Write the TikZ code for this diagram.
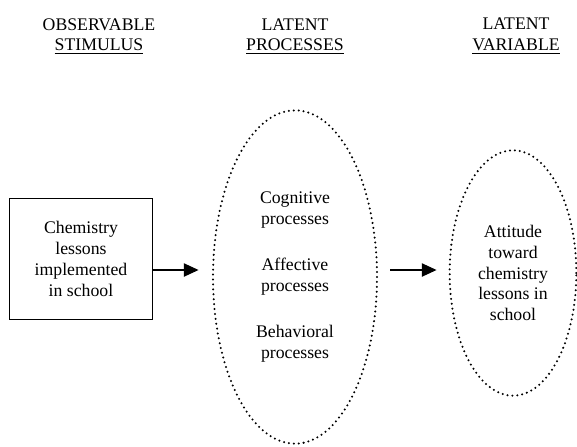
\documentclass[tikz,border=0pt]{standalone}
\usepackage{fontspec}
\setmainfont{Liberation Serif}
\usetikzlibrary{shapes.geometric,arrows.meta}

\begin{document}
\begin{tikzpicture}[x=0.75pt,y=-0.75pt,
    font=\fontsize{13.3}{15.6}\selectfont,
    dotline/.style={line width=1.7pt, line cap=round, dash pattern=on 0pt off 3.7pt},
    arr/.style={-{Triangle[length=11pt,width=10pt]}, line width=0.8pt}]
    \useasboundingbox (0,0) rectangle (577,446);

    % column headings
    \node[align=center] (hobs) at (99,36) {OBSERVABLE\\\underline{STIMULUS}};
    \node[align=center] (hproc) at (295,36) {LATENT\\\underline{PROCESSES}};
    \node[align=center] (hvar) at (516,36) {LATENT\\\underline{VARIABLE}};

    \node[draw, line width=0.8pt, minimum width=107pt, minimum height=91pt, align=center] (lesson) at (81,259) {Chemistry\\lessons\\implemented\\in school};

    \node[ellipse, draw, dotline, minimum width=123pt, minimum height=250pt, inner sep=0pt, align=center] (proc) at (295,277)
        {Cognitive\\processes\\[19pt]Affective\\processes\\[19pt]Behavioral\\processes};

    \node[ellipse, draw, dotline, minimum width=95pt, minimum height=184pt, inner sep=0pt, align=center] (attitude) at (513,273)
        {Attitude\\toward\\chemistry\\lessons in\\school};

    \coordinate (mid) at (0,270);
    \draw[arr, shorten >=10pt] (lesson.east |- mid) -- (proc.west |- mid);
    \draw[arr, shorten <=9pt, shorten >=9pt] (proc.east |- mid) -- (attitude.west |- mid);

\end{tikzpicture}
\end{document}
